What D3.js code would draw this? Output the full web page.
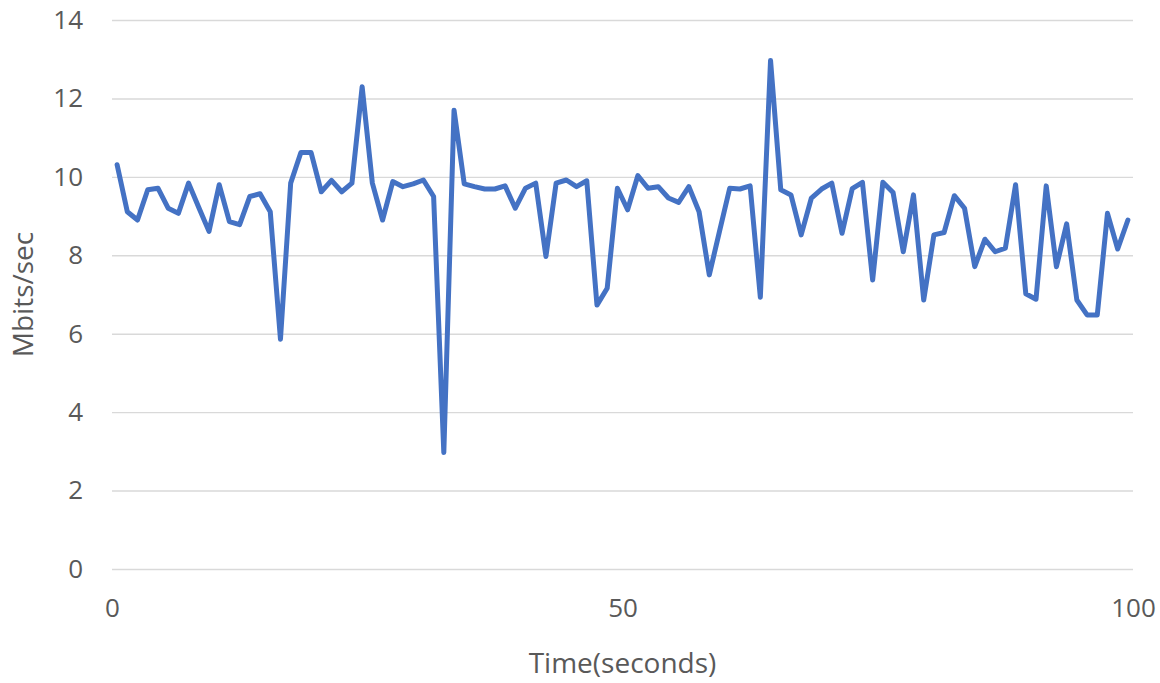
<!DOCTYPE html>
<html>
<head>
<meta charset="utf-8">
<script src="https://cdn.jsdelivr.net/npm/d3@7"></script>
<style>
  html, body { margin: 0; padding: 0; background: #ffffff; }
  svg { display: block; }
  text { font-family: "Open Sans", sans-serif; fill: #595959; }
</style>
</head>
<body>
<svg id="chart" width="1160" height="683"></svg>
<script>
// Throughput per 1-second interval (Mbits/sec), intervals 0..99
const throughput = [
  10.31, 9.11, 8.90, 9.67, 9.71, 9.20, 9.07, 9.84, 9.22, 8.61,
  9.80, 8.86, 8.78, 9.50, 9.57, 9.11, 5.86, 9.84, 10.62, 10.62,
  9.62, 9.91, 9.62, 9.84, 12.30, 9.84, 8.90, 9.88, 9.75, 9.82,
  9.92, 9.50, 2.97, 11.70, 9.82, 9.75, 9.69, 9.69, 9.77, 9.20,
  9.71, 9.84, 7.97, 9.84, 9.92, 9.75, 9.90, 6.73, 7.16, 9.71,
  9.16, 10.03, 9.71, 9.75, 9.46, 9.35, 9.75, 9.11, 7.50, 8.61,
  9.71, 9.69, 9.77, 6.93, 12.97, 9.67, 9.54, 8.52, 9.46, 9.69,
  9.84, 8.56, 9.70, 9.86, 7.37, 9.86, 9.60, 8.09, 9.54, 6.86,
  8.52, 8.58, 9.52, 9.20, 7.71, 8.41, 8.09, 8.18, 9.80, 7.02,
  6.88, 9.77, 7.71, 8.80, 6.86, 6.48, 6.48, 9.07, 8.16, 8.90
];
const xTicks = [0, 50, 100];
const yTicks = [0, 2, 4, 6, 8, 10, 12, 14];
const xTitle = "Time(seconds)";
const yTitle = "Mbits/sec";

const svg = d3.select("#chart");
const plotLeft = 112, plotRight = 1133, plotTop = 20, plotBottom = 569;

const x = d3.scaleLinear().domain([0, 100]).range([plotLeft, plotRight]);
const y = d3.scaleLinear().domain([0, 14]).range([plotBottom, plotTop]);

// gridlines + y labels
const yAxis = d3.axisLeft(y).tickValues(yTicks).tickSize(-(plotRight - plotLeft)).tickPadding(29);
const gy = svg.append("g").attr("transform", `translate(${plotLeft},0)`).call(yAxis);
gy.select(".domain").remove();
gy.selectAll(".tick line").attr("stroke", "#d9d9d9").attr("stroke-width", 1.4);
gy.selectAll(".tick text").attr("font-size", 26).attr("font-family", "Open Sans").attr("fill", "#595959");

// x labels
const xAxis = d3.axisBottom(x).tickValues(xTicks).tickSize(0).tickPadding(0);
const gx = svg.append("g").attr("transform", `translate(0,${plotBottom})`).call(xAxis);
gx.select(".domain").remove();
gx.selectAll(".tick text").attr("font-size", 26).attr("font-family", "Open Sans")
  .attr("fill", "#595959").attr("dy", null).attr("y", 48);

// line (points at interval midpoints)
const line = d3.line()
  .x((d, i) => x(i + 0.5))
  .y(d => y(d));
svg.append("path")
  .datum(throughput)
  .attr("d", line)
  .attr("fill", "none")
  .attr("stroke", "#4472C4")
  .attr("stroke-width", 5)
  .attr("stroke-linejoin", "round")
  .attr("stroke-linecap", "round");

// axis titles
svg.append("text")
  .attr("x", (plotLeft + plotRight) / 2).attr("y", 673)
  .attr("text-anchor", "middle")
  .attr("font-size", 28)
  .text(xTitle);
svg.append("text")
  .attr("transform", `translate(33,${(plotTop + plotBottom) / 2}) rotate(-90)`)
  .attr("text-anchor", "middle")
  .attr("font-size", 28)
  .text(yTitle);
</script>
</body>
</html>
